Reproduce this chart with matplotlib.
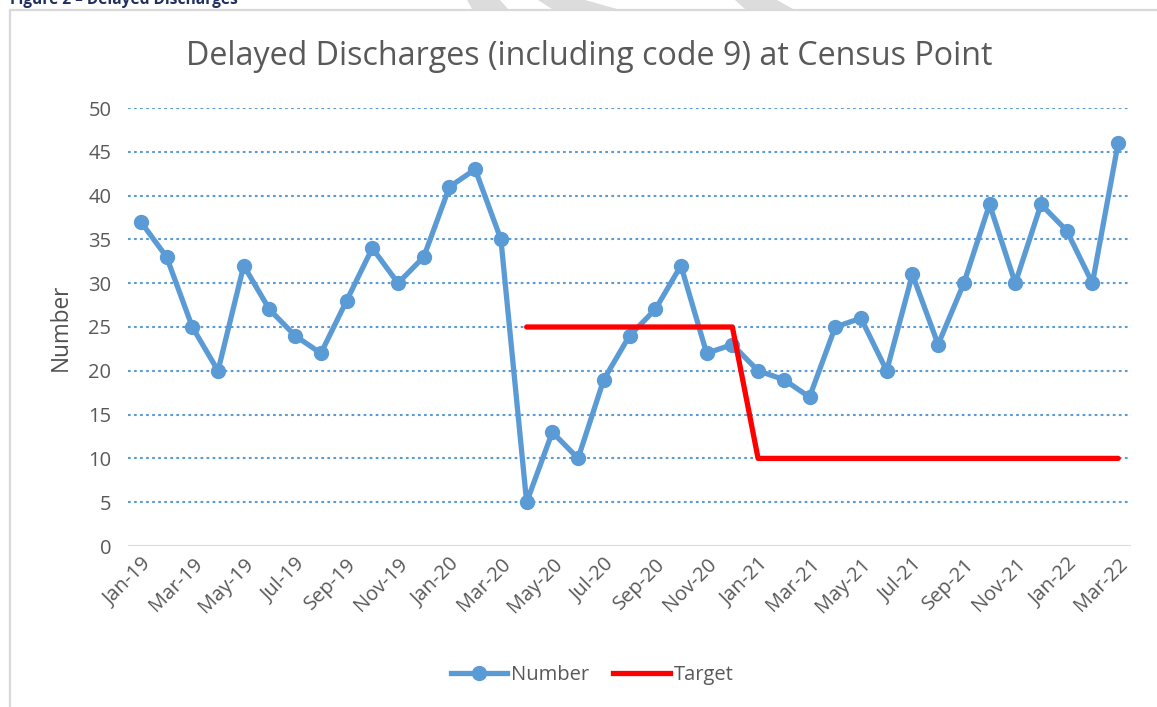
import matplotlib
matplotlib.use("Agg")
import matplotlib.pyplot as plt
from matplotlib.patches import Polygon, Rectangle
from matplotlib.lines import Line2D
import numpy as np

plt.rcParams['font.family'] = ['Open Sans', 'DejaVu Sans']

months = ["Jan-19", "Feb-19", "Mar-19", "Apr-19", "May-19", "Jun-19", "Jul-19", "Aug-19",
          "Sep-19", "Oct-19", "Nov-19", "Dec-19", "Jan-20", "Feb-20", "Mar-20", "Apr-20",
          "May-20", "Jun-20", "Jul-20", "Aug-20", "Sep-20", "Oct-20", "Nov-20", "Dec-20",
          "Jan-21", "Feb-21", "Mar-21", "Apr-21", "May-21", "Jun-21", "Jul-21", "Aug-21",
          "Sep-21", "Oct-21", "Nov-21", "Dec-21", "Jan-22", "Feb-22", "Mar-22"]
number = [37, 33, 25, 20, 32, 27, 24, 22, 28, 34, 30, 33, 41, 43, 35, 5,
          13, 10, 19, 24, 27, 32, 22, 23, 20, 19, 17, 25, 26, 20, 31, 23,
          30, 39, 30, 39, 36, 30, 46]
target = [None] * 15 + [25] * 9 + [10] * 15
yticks = [0, 5, 10, 15, 20, 25, 30, 35, 40, 45, 50]

W, H = 1157, 707
fig = plt.figure(figsize=(W / 100, H / 100), dpi=100)

def fx(px):
    return px / W

def fy(py):
    return 1 - py / H

# chart frame
fig.patches.append(Rectangle((fx(10), fy(720)), fx(1200) - fx(10), fy(10) - fy(720),
                             transform=fig.transFigure, facecolor='white',
                             edgecolor='#D9D9D9', linewidth=1.6, zorder=1))

# watermark fragments above the chart frame
for pts in [[(467, 0), (500, 0), (508, 9), (472, 9)],
            [(538, 0), (585, 0), (617, 9), (552, 9)],
            [(735, 0), (777, 0), (793, 9), (745, 9)]]:
    fig.patches.append(Polygon([(fx(px), fy(py)) for px, py in pts], closed=True,
                               transform=fig.transFigure, facecolor='#DCDCDC',
                               edgecolor='none', zorder=1.5))

# header (mostly cut off)
fig.text(fx(10), fy(4.5), "Figure 2 \u2013 Delayed Discharges", fontsize=11.2,
         fontweight='bold', color='#1F2F5F', va='baseline', ha='left')

ax = fig.add_axes([fx(128), fy(546), fx(1131) - fx(128), fy(108) - fy(546)])
ax.set_zorder(2)
ax.patch.set_alpha(0)

x = np.arange(len(months))
tx = np.array([np.nan if v is None else v for v in target], dtype=float)

ax.set_xlim(-0.5, len(months) - 0.5)
ax.set_ylim(0, 50)
ax.set_yticks(yticks)
for v in yticks[1:]:
    ax.axhline(v, color='#5B9BD5', linewidth=1.5, linestyle=(0, (1.3, 1.6)), zorder=1)
ax.axhline(0, color='#D9D9D9', linewidth=1.5, zorder=1)

ax.plot(x, number, color='#5B9BD5', linewidth=3.8, marker='o', markersize=10,
        solid_capstyle='round', solid_joinstyle='round', zorder=3, label='Number')
ax.plot(x, tx, color='#FF0000', linewidth=3.8, solid_capstyle='round',
        solid_joinstyle='round', zorder=4, label='Target')

for s in ax.spines.values():
    s.set_visible(False)
ax.tick_params(axis='both', length=0, labelsize=14.5, colors='#595959')
ax.tick_params(axis='y', pad=12)
ax.set_xticks(x[::2])
ax.set_xticklabels(months[::2], rotation=45, ha='right', va='top',
                   rotation_mode='anchor')
ax.tick_params(axis='x', pad=6)
ax.set_ylabel("Number", fontsize=16.3, color='#505050', labelpad=11)

fig.text(fx(589), fy(65), "Delayed Discharges (including code 9) at Census Point",
         fontsize=23.2, color='#595959', ha='center', va='baseline')

handles = [Line2D([], [], color='#5B9BD5', linewidth=3.8, marker='o', markersize=10),
           Line2D([], [], color='#FF0000', linewidth=3.8)]
fig.legend(handles, ["Number", "Target"], loc='center', bbox_to_anchor=(fx(592), fy(675)),
           ncol=2, frameon=False, fontsize=14.5, labelcolor='#595959',
           handlelength=2.8, handletextpad=0.2, columnspacing=1.2)

fig.savefig("out.png", dpi=100)
